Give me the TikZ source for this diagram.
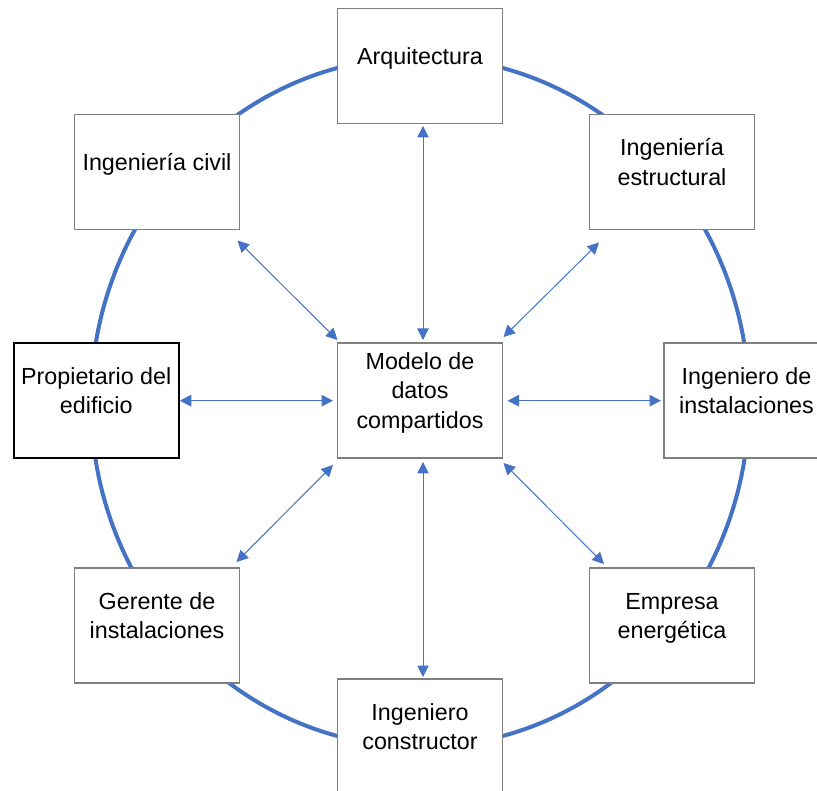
\documentclass[tikz,border=0pt]{standalone}
\usepackage{fontspec}
\setmainfont{Liberation Sans}
\usetikzlibrary{arrows.meta}
\definecolor{accent}{HTML}{4472C4}
\definecolor{frame}{HTML}{7F7F7F}
% fixed first-line height and last-line depth so every label sits alike
\newcommand\lblTop{\rule{0pt}{18pt}}
\newcommand\lblBot{\rule[-6pt]{0pt}{6pt}}

\begin{document}
\begin{tikzpicture}[x=1pt,y=-1pt,
  box/.style={draw=frame, line width=1.3pt, fill=white, minimum width=165pt,
    minimum height=115pt, inner sep=0pt, outer sep=0pt},
  ownerbox/.style={box, draw=black, line width=2.5pt},
  lbl/.style={align=center, inner sep=0pt, font=\fontsize{23.3}{29.5}\selectfont},
  link/.style={accent, line width=1pt,
    {Triangle[length=11.5pt,width=11.5pt]}-{Triangle[length=11.5pt,width=11.5pt]}},
  ring/.style={accent, line width=4pt}]

\useasboundingbox (0,0) rectangle (817,791);

% ring joining the participants
\draw[ring] (420,402) ellipse [x radius=329pt, y radius=345pt];

% participant boxes
\node[box] (arq)  at (420,66)    {};
\node[box] (civ)  at (157,172)   {};
\node[box] (est)  at (672,172)   {};
\node[ownerbox] (prop) at (96.25,400.5) {};
\node[box] (mod)  at (420,400.5) {};
\node[box] (ins)  at (746.5,400.5) {};
\node[box] (ger)  at (157,625.5) {};
\node[box] (emp)  at (672,625.5) {};
\node[box] (con)  at (420,736.5) {};

% labels
\node[lbl] (arqT)  at ([yshift=7.5pt]arq.center)  {\lblTop Arquitectura\lblBot};
\node[lbl] (civT)  at ([yshift=7.5pt]civ.center)  {\lblTop Ingeniería civil\lblBot};
\node[lbl] (estT)  at ([yshift=7.5pt]est.center)  {\lblTop Ingeniería\\estructural\lblBot};
\node[lbl] (propT) at ([yshift=7.5pt]prop.center) {\lblTop Propietario del\\edificio\lblBot};
\node[lbl] (modT)  at ([yshift=7.5pt]mod.center)  {\lblTop Modelo de\\datos\\compartidos\lblBot};
\node[lbl] (insT)  at ([yshift=7.5pt]ins.center)  {\lblTop Ingeniero de\\instalaciones\lblBot};
\node[lbl] (gerT)  at ([yshift=7.5pt]ger.center)  {\lblTop Gerente de\\instalaciones\lblBot};
\node[lbl] (empT)  at ([yshift=7.5pt]emp.center)  {\lblTop Empresa\\energética\lblBot};
\node[lbl] (conT)  at ([yshift=7.5pt]con.center)  {\lblTop Ingeniero\\constructor\lblBot};

% two-way links to the shared model
\draw[link] ([shift={(3,2.5)}]arq.south) -- ([shift={(3,-3)}]mod.north);
\draw[link] ([shift={(3,4)}]mod.south) -- ([shift={(3,-2)}]con.north);
\draw[link] ([shift={(1,0.2)}]prop.east) -- ([shift={(-4.5,0.2)}]mod.west);
\draw[link] ([shift={(5,0.2)}]mod.east) -- ([shift={(-3,0.2)}]ins.west);
\draw[link] ([shift={(0,-3)}]mod.north west) -- ([shift={(-2,11)}]civ.south east);
\draw[link] ([shift={(1,-6)}]mod.north east) -- ([shift={(9.5,13)}]est.south west);
\draw[link] ([shift={(-4.5,7)}]mod.south west) -- ([shift={(-3,-6)}]ger.north east);
\draw[link] ([shift={(1,5)}]mod.south east) -- ([shift={(14.5,-4)}]emp.north west);
\end{tikzpicture}
\end{document}
